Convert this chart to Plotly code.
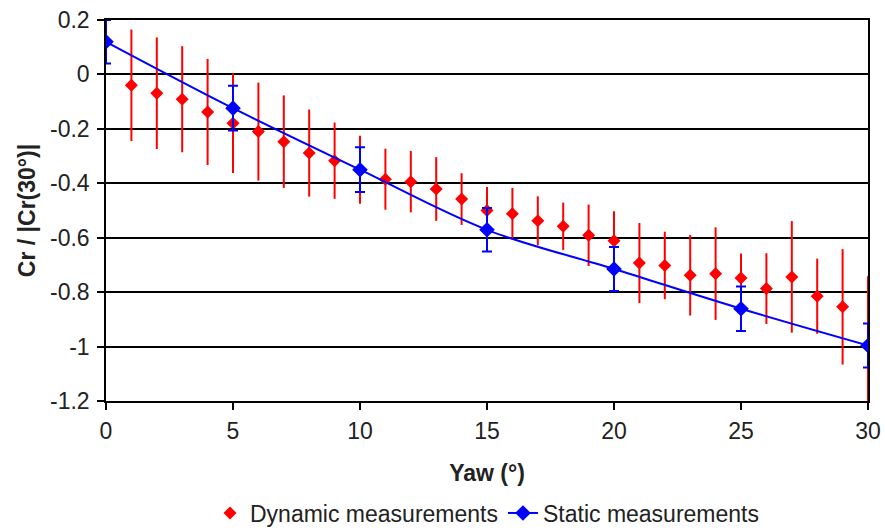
import plotly.graph_objects as go

# Dynamic measurements
dyn_x = list(range(1, 31))
dyn_y = [-0.040, -0.069, -0.091, -0.138, -0.179, -0.210, -0.247, -0.289, -0.317, -0.350,
         -0.385, -0.394, -0.421, -0.458, -0.500, -0.512, -0.538, -0.558, -0.591, -0.611,
         -0.693, -0.702, -0.738, -0.732, -0.748, -0.787, -0.744, -0.815, -0.854, -1.000]
dyn_err = [0.205, 0.205, 0.195, 0.195, 0.183, 0.180, 0.170, 0.160, 0.140, 0.125,
           0.112, 0.113, 0.117, 0.095, 0.086, 0.095, 0.090, 0.087, 0.113, 0.108,
           0.147, 0.124, 0.148, 0.170, 0.090, 0.130, 0.205, 0.138, 0.212, 0.258]

# Static measurements
sta_x = [0, 5, 10, 15, 20, 25, 30]
sta_y = [0.120, -0.124, -0.350, -0.571, -0.715, -0.861, -0.996]
sta_err = [0.080, 0.082, 0.082, 0.080, 0.081, 0.082, 0.081]

y_ticks = [0.2, 0, -0.2, -0.4, -0.6, -0.8, -1, -1.2]
y_labels = ["0.2", "0", "-0.2", "-0.4", "-0.6", "-0.8", "-1", "-1.2"]
x_ticks = [0, 5, 10, 15, 20, 25, 30]

fig = go.Figure()
fig.add_trace(go.Scatter(
    x=dyn_x, y=dyn_y, mode="markers", name="Dynamic measurements",
    marker=dict(symbol="diamond", size=10, color="#FF0000"),
    error_y=dict(type="data", array=dyn_err, color="#FF0000", thickness=2, width=0),
))
fig.add_trace(go.Scatter(
    x=sta_x, y=sta_y, mode="lines+markers", name="Static measurements",
    line=dict(color="#0000FF", width=2, shape="spline", smoothing=1.0),
    marker=dict(symbol="diamond", size=12, color="#0000FF"),
    error_y=dict(type="data", array=sta_err, color="#0000FF", thickness=2, width=5),
))

fig.update_layout(
    width=885, height=530,
    margin=dict(l=106, r=17, t=20, b=129, autoexpand=False),
    paper_bgcolor="white", plot_bgcolor="white",
    font=dict(family="Liberation Sans, Arial, sans-serif", size=23, color="#222"),
    showlegend=True,
    legend=dict(orientation="h", x=0.5, xanchor="center", y=-0.294, yanchor="middle",
                font=dict(size=23), itemwidth=30, tracegroupgap=0),
)
fig.update_xaxes(
    range=[0, 30], tickvals=x_ticks, ticks="outside", ticklen=7, tickwidth=1.5,
    tickcolor="black", showline=True, linecolor="black", linewidth=1.5,
    mirror=True, showgrid=False, zeroline=False, ticklabelstandoff=2,
    tickfont=dict(size=23), automargin=False,
    title=dict(text="<b>Yaw (°)</b>", font=dict(size=23), standoff=22),
)
fig.update_yaxes(
    range=[-1.2, 0.2], tickvals=y_ticks, ticktext=y_labels, ticks="outside", ticklen=7,
    tickwidth=1.5, tickcolor="black", showline=True, linecolor="black", linewidth=1.5,
    mirror=True, showgrid=True, gridcolor="black", gridwidth=1.5, zeroline=False,
    ticklabelstandoff=3, tickfont=dict(size=23), automargin=False,
    title=dict(text="<b>Cr / |Cr(30°)|</b>", font=dict(size=23), standoff=8),
)

fig.write_html("out.html")
